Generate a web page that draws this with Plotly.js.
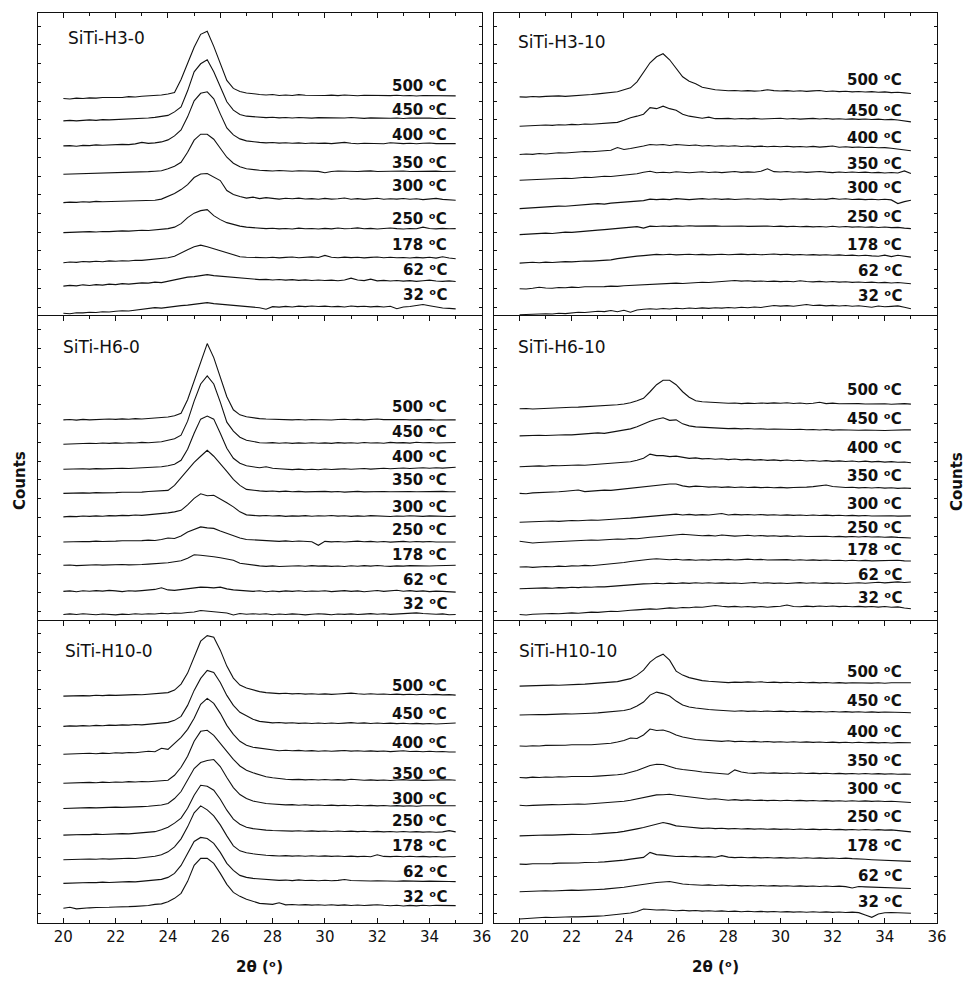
<!DOCTYPE html>
<html>
<head>
<meta charset="utf-8">
<script src="https://cdn.plot.ly/plotly-3.0.1.min.js"></script>
<style>
  html, body { margin: 0; padding: 0; background: #fff; }
  #chart { width: 970px; height: 981px; }
</style>
</head>
<body>
<div id="chart"></div>
<script>
// 2θ grid of the in-situ XRD scans (degrees)
const twoTheta = [20,20.25,20.5,20.75,21,21.25,21.5,21.75,22,22.25,22.5,22.75,23,23.25,23.5,23.75,24,24.25,24.5,24.75,25,25.25,25.5,25.75,26,26.25,26.5,26.75,27,27.25,27.5,27.75,28,28.25,28.5,28.75,29,29.25,29.5,29.75,30,30.25,30.5,30.75,31,31.25,31.5,31.75,32,32.25,32.5,32.75,33,33.25,33.5,33.75,34,34.25,34.5,34.75,35];

// measurement temperatures, top pattern first
const temperatures = ['500', '450', '400', '350', '300', '250', '178', '62', '32'];

const samples = ['SiTi-H3-0', 'SiTi-H3-10', 'SiTi-H6-0', 'SiTi-H6-10', 'SiTi-H10-0', 'SiTi-H10-10'];

// counts (arbitrary units, relative to the first point of each scan), one row per temperature
const countsH3_0 = [
  [0,-0.5,0.3,0,0.6,0.3,1,0.8,1.2,1,1.8,1.5, 2.2,2.5,3,3.5,4.5,6,19,35, 51,64,67,52,35,18,10,7, 5.5,4.5,4,3.5,4,3,3.5,3,3.8,3.2,3,3.5, 3,3.3,2.8,3.5,3,2.7,3.2,3,2.5,3,2.8,3.2, 2.7,3,2.5,3,2.8,2.5,3,2.7,2.6],
  [0,0.5,0,0.7,1,0.5,1.2,1,1.3,1.8,1.5,2.2, 2,2.8,3.5,4.3,5.5,9,14,30, 49,57,61,49,34,19,10.7,6.3, 4.7,4,3.5,3.2,3.6,3,3.3,2.8,3.4,3,2.7,3.2, 3,2.6,3.1,2.8,3.3,2.9,2.5,3,2.7,3.1,2.6,2.9, 2.4,2.8,3,2.5,2.7,2.3,2.8,2.5,2.3],
  [0,0.3,-0.3,0.5,0.3,1,0.7,1.2,1,1.5,1.3,2, 3.5,2.5,3,4,6,10,16,29, 45,52.5,54,47,32,18,11,7, 5,4,3.5,3,3.4,2.8,3.2,2.6,3,2.4,2.9,2.5, 2.8,2.3,2.9,3.5,2.6,2.2,2.7,2.4,2.8,2.2,3.2,2.5, 2.3,2.7,2.2,2.6,2.9,2.3,2.5,2.2,2.3],
  [0,0.2,0,0.6,0.3,1,0.8,1.2,1,1.6,1.4,2, 2.3,2.6,3,3.5,5.5,8,12,22, 34,40,40,35,26,17,11,7.5, 5.5,4.5,4,3.6,3.2,3.8,3.3,3,3.5,3.1,3.4,2.9, 1.5,2.8,3.3,2.9,3.2,2.7,3.1,3.4,2.8,3,3.3,2.9, 3.2,2.8,3,3.3,2.9,3.1,2.8,3.2,3],
  [0,0.5,0.2,0.8,0.5,1.2,0.8,1,1.5,1.2,1.8,1.5, 2,2.5,2.3,3.5,6,9,13,18, 25,28.5,29,25.5,22,12,8,6, 4.5,5.5,4,5,4.2,3.5,4.3,3.8,4.5,3.6,4,3.3, 4.2,3.5,3.9,4.6,3.4,4,3.2,3.8,4.4,3.3,3.9,3.5, 4.1,3.4,3.8,3,3.6,4.2,3.2,2.8,2.3],
  [0,0.3,0.8,0.5,1,0.6,1.2,1,1.5,1.8,1.5,2, 2.4,2.2,2.8,3.2,4,5.5,9,15, 19.5,22,23,17,13,10,8,6.5, 5.5,5,4.5,4,4.4,3.8,4.2,3.6,4.5,3.9,4.2,3.7, 4.3,3.8,4.6,3.9,4.2,4.8,3.9,4.3,3.7,4.1,4.6,4, 3.6,4.2,3.9,5.5,4.1,3.8,4.3,3.9,4],
  [0,0.7,0.3,1.2,0.8,1.5,1,1.8,1.4,2,1.7,2.5, 2.3,3,3.5,4.2,5,6.5,10,13, 16,17.5,16,14,12,9.5,7.5,6, 5.5,5.2,5.6,5,5.4,4.8,5.3,5.7,5,5.4,5.8,5.2, 7.3,5.5,5,5.6,5.1,5.5,4.8,5.3,5.7,5,5.4,4.9, 5.2,4.7,5.3,4.8,5.4,4.6,6,4.7,4],
  [0,0.8,0.3,1.3,0.6,1.5,1,2,1.5,2.5,2,2.8, 3.3,3,4,3.5,5,6.5,7.5,9, 9.5,10.5,11.5,10.5,10,9.5,9,8, 7.5,7,6.5,6.8,6.2,6.6,6,6.5,5.8,6.3,5.7,6.2, 5.6,6,5.4,6.1,8,6.2,5.5,7,5.3,5.8,5.1,5.6, 5,5.5,4.8,5.4,6,5.2,4.8,5.3,4.7],
  [0,-0.5,0.5,0.3,1,0.7,1.5,1.2,2,2.5,2.2,3, 3.5,4.5,5.5,5,6,6.5,7.5,8, 9,9.5,10.5,9.5,9,8.5,8,7.5, 7,6,5.5,4,6.5,6,6.8,6.2,7,6.5,7.2,6.6, 7,6.4,6.8,6.2,7.1,6.5,6.9,6.3,6.8,6.2,6.9,4.5, 6.2,6.6,7.5,8.7,7.5,6,5.2,4.8,4.3]
];

const countsH3_10 = [
  [0,-0.3,0.3,0,0.5,0.8,1,0.5,0.8,1.2,1.8,2.3, 3,3.5,4,5,7,9,15,25, 34,40,43,37,29,20,15.5,13, 9.5,8,7,6.5,6,6.3,5.8,6.2,5.7,6,7,6.2, 5.8,6.2,5.6,6,5.5,5.9,6.3,5.4,5.8,5.2,5.6,5, 5.4,4.8,5.2,4.6,5,4.2,4.6,4,3.3],
  [0,0.3,0.8,0.4,1.2,0.8,1.5,1.2,1.8,1.5,2.2,2, 2.5,3,3.2,3.8,6,8.5,10,12, 18.5,17.5,20,17.5,16,12,10,9, 8,9,7.5,7.5,7.8,7.2,7.7,7.3,7.8,7.1,7.6,7.4, 7.9,7.2,7.6,7,7.5,7.8,7.2,7.6,7,7.4,6.9,7.3, 6.8,7.2,6.6,7,6.4,6.8,6.2,5.5,4.3],
  [0,0.5,0.2,1,0.6,1.3,1.8,1.5,2.2,2.5,3,2.8, 3.5,4,4.3,7,5,6,7,8.5, 10,9.5,10,9,10,9.5,9,9.5, 8.5,9,8.3,8.8,8.2,8.7,8,8.5,7.9,8.4,7.8,8.2, 7.7,8.3,7.6,8,7.5,8.1,7.4,7.9,8.5,7.3,7.7,7.1, 7.5,7,7.3,6.7,6.9,6.2,5.5,4.5,3.7],
  [0,0.3,0.8,0.5,1.2,1,1.5,2,1.8,2.5,3,2.7, 3.5,4,3.8,4.5,5.5,6,6.5,8, 9,7.5,8,7.5,8.5,8,7.5,8, 8.5,7.8,8.3,7.6,8.2,8.8,7.9,8.4,8,9,11.5,8.6, 8.2,8.7,8,8.5,7.9,8.4,8.8,8.1,7.6,8.2,7.8,8.3, 7.7,8.1,7.5,7.9,7.3,7.8,7.2,9.3,6.7],
  [0,0.5,1,0.8,1.5,2,2.5,2.3,3,3.5,3.8,4.5, 5,4.5,5.5,6,6.5,7,7.5,8, 9.5,9,9.5,9,10,9.5,9,9.5, 10,9.3,9.8,9.2,9.7,9.1,9.6,9.9,9.3,9.8,9.2,9.6, 9,9.5,9.9,9.3,9.7,9.1,9.6,9.2,10.2,9.4,9.8,9.1, 9.5,9,9.4,8.8,9.3,8.7,5,7,8.3],
  [0,0.5,0.3,1,1.5,1.2,2,2.5,2.3,3,3.5,4, 4.5,5,5.5,6,7,7.5,8,6.5, 8.5,8.2,8.7,8.3,8.8,8.4,8.9,8.5, 8.7,8.3,8.8,8.4,8.6,8.2,8.7,8.3,8.5,8.1,8.6,8.2, 8.5,8,8.4,7.9,8.3,7.8,8.2,7.7,8.4,7.6,8.1,7.5, 7.9,7.4,7.8,7.2,7.6,7,7.3,6.5,6],
  [0,0.4,0.8,0.3,1,0.6,1.2,1.5,1.2,1.8,2.1,2, 2.4,2.7,3.2,4.5,5.5,6.7,7,7.5, 8,8.7,8.3,8.8,8.2,8.6,8.9,8.4, 8.7,8.2,8.6,8.9,8.3,8.7,9,8.5,8.8,8.3,8.7,9.1, 8.5,8.9,8.2,8.6,8.1,8.5,8,8.4,7.8,8.2,7.6,8, 7.4,7.8,7.2,6.8,8,6.5,7.8,6.6,6],
  [0,-0.3,0.5,1.5,0.8,0.5,1.2,1,1.6,1.3,2,1.8, 2.3,2.1,2.6,2.4,3,3.3,3.8,4.2, 4.5,5,4.7,5.3,5.6,5.2,5.8,6, 6.5,6.2,6.9,7.3,8,8.3,7.6,8,7.4,7.8,7.2,7.6, 7.1,7.5,7,8,7.3,6.9,7.4,6.8,7.2,6.6,7,6.4, 6.8,6.2,6.6,6,6.4,5.8,6.2,5.5,5],
  [0,0.3,0.7,0.4,1,0.8,1.5,1.2,2,2.5,2.3,3, 3.5,3.2,4.3,3,4.5,2.5,4.8,5.5, 6,5.5,6.3,5.8,6.5,6,6.8,6.3, 6.9,6.4,7,6.6,7.2,6.8,7.5,7,7.8,7.3,8,9.3, 8.6,9.1,8.5,9.5,10.3,9.2,9.6,8.9,9.4,8.8,9.2,8.5, 9,8.3,7.5,8.8,8,8.4,8.9,7.5,6]
];

const countsH6_0 = [
  [0,0.3,-0.3,0.5,0,0.5,0.3,0.8,0.5,1,0.6,1.2, 0.8,1.2,1.5,2.3,2.8,4,6.5,20, 39,58,76,62,42,23,10,5, 3,2,1.2,0.8,0.5,0.2,0.6,0,0.4,-0.2,0.3,0, 0.4,-0.1,0.3,0.6,0.1,0.5,0,0.4,0.8,0.2,0.5,0.1, 0.4,0,0.3,0.6,0.2,-0.1,0.3,0.1,0],
  [0,0.3,0.8,0.4,1,0.7,1.2,0.8,1.3,1,1.5,1.2, 1.8,1.5,2,2.5,4,5.5,9,23, 43,60,68,60,42,22,13,7, 4,2.5,1.5,1.2,1.6,1,1.4,0.8,1.3,0.9,1.5,1, 1.3,0.8,1.6,1.1,1.4,0.9,1.7,1.2,1.5,1,1.8,1.3, 1.6,1.1,1.9,1.4,1.7,1.2,1.5,2,1.7],
  [0,0.3,0,0.5,0.2,0.7,0.4,0.8,0.5,1,0.8,1.2, 1,1.5,2,2.5,3.5,5,9,20, 36,50,53,50,36,21,11,6, 3.5,2.5,1.5,2.5,1,0.5,0,-0.3,0.2,-0.5,0,-0.4, 0.3,-0.2,0.2,0.5,0,0.4,0.8,0.2,0.6,1,0.5,0.9, 1.3,0.8,1.2,1.6,1,1.5,1.2,1.8,2],
  [0,0.3,0,0.5,0.3,0.8,0.5,1,0.8,1.2,1,1.5, 1.3,1.8,2,2.5,3,8,16,24, 31,37,43,37,30,22,14,8, 4,3,2.5,2,2.3,1.8,2.2,1.6,2,1.5,1.9,1.7, 2,1.5,1.8,1.3,1.7,2,1.5,1.8,1.4,1.9,1.6,1.8, 1.5,1.9,1.6,1.8,1.4,1.7,2,1.6,1.7],
  [0,0.5,0.2,0.8,0.5,1,0.6,1.2,1,1.5,1.2,1.8, 1.5,2,2.5,3,4,5,6.5,12, 18.5,23,21,21.5,18,14,10,5, 2,1.5,1,1.3,0.8,1.2,0.5,1,0.7,1.2,0.6,1.1, 0.8,1.3,0.7,1.1,0.5,1,0.6,1.2,0.8,1.1,0.4,0.9, 0.6,1.1,0.7,0.5,1,0.6,0.9,0.4,0.7],
  [0,0.3,0,0.5,0.3,0.8,0.5,1,0.8,1.2,1,1.5, 1.3,1.8,1.5,2.5,4,3.5,6,10, 12.5,15,14,13.5,11,8.5,6,4, 2.5,2,1.5,1.2,1,0.6,1.1,0.5,0.9,0.3,0.2,-3.3, 0.6,0.1,0.5,0,0.4,0.8,0.2,0.6,0,0.4,-0.2,0.3, 0.6,0,0.5,0.1,0.4,-0.1,0.3,0,0],
  [0,0.3,-0.3,0.2,0,0.5,0.2,0.6,0.3,0.8,0.5,1, 0.8,1.2,1.5,2,2.5,3.5,4.5,7, 10.5,10,9.5,8.5,7.5,6.5,5,2, 1,0,-0.5,-1,-0.5,-1.2,-0.8,-1,-0.4,-0.9,-0.3,-0.8, -0.5,-1,-0.6,-1.1,-0.4,-0.9,-0.3,-0.8,-0.2,-0.7,-1,-0.5, -0.8,-0.3,-0.6,-0.2,-0.7,-0.4,-0.1,-0.5,0],
  [0,0.5,-0.3,0.6,0.2,0.8,0.3,1,0.5,-0.2,0.6,0.3, 0.8,1.2,2,3.7,1.5,1,1.8,2.5, 3,4.3,4,3.5,4.3,2.5,1.5,1, 0.5,0,0.6,-0.3,0.4,-0.2,0.5,0,0.7,-0.1,0.4,0.1, 0.6,-0.2,0.3,0.8,0,0.5,-0.3,0.4,0.9,0,0.6,1.2, 0.2,0.8,0,0.5,-0.2,0.3,0,-0.5,-0.7],
  [0,0.6,0,0.8,0.2,-0.3,0.5,0.3,-0.4,0.4,0,0.7, 0.3,0.8,0.5,1.2,0.8,1.5,1.3,2, 2.5,4,3.5,2.8,2.2,1.5,-0.5,1, 0.3,0.8,0.2,0.7,-0.3,0.5,0,0.6,0.2,-0.4,0.3,0.8, 0.4,-0.2,0.5,0.1,0.6,0,0.4,0.9,0.3,0.7,0.1,0.5, 0.9,1.3,1.6,1,0.5,0.2,0.6,-0.3,0]
];

const countsH6_10 = [
  [0,0.3,-0.2,0.2,0.5,0.7,0.8,1.3,1.6,1.7,2,2.3, 2.7,3,3.5,4,4.8,6,8,10.5, 17,24,28.5,28.5,24,17,11.5,8, 7,6.5,6,6,5.5,5.8,5.2,5.6,5.3,5.8,5.4,5.9, 5.5,6,5.3,5.7,5.1,5.5,6.5,5.2,5.6,5,5.3,4.9, 5.2,4.8,5.1,4.7,5,4.6,4.9,5.2,4.7],
  [0,0.3,0,0.6,0.4,0.9,0.7,1.2,1,1.5,1.3,1.8, 3,2.5,3.5,4.5,6,7,9,12, 14.5,16.5,18,15.5,16,12,10,9, 8.5,8,7.5,7.7,7.2,7.5,7,7.3,6.8,7.1,6.6,6.9, 6.5,6.8,6.3,6.6,6.1,6.4,5.9,6.3,5.8,6.1,5.7,6, 5.6,5.9,5.5,5.8,5.4,5.7,5.5,6,6],
  [0,0.4,0.2,0.8,0.5,1.1,0.9,1.4,1.2,1.7,1.5,2, 2.2,2.6,3,3.5,4,5,6.5,8.5, 12.5,11,11,10,10.5,9.5,8.3,8.8, 7.8,8.2,7.4,7.9,7.1,7.6,6.8,7.3,6.6,7,6.3,6.8, 6.1,6.6,5.9,6.4,5.7,6.2,5.5,6,5.3,5.8,5.2,5.6, 5,5.5,4.8,5.3,4.6,5,4.4,4.7,4],
  [0,-0.3,0.5,0.8,0.4,1.2,1.6,2.2,2.5,3.3,1.8,2.5, 2.8,3.2,3,3.7,4.5,5,6,6.8, 7.5,8,8.8,9.3,9.3,7.5,6.5,7.2, 6.8,6.2,6.6,6,6.5,5.9,6.3,5.8,6.2,5.7,6.1,5.6, 6,5.5,5.9,5.7,6.2,6.7,7.5,8.3,6.8,6.2,5.8,6.1, 5.5,5.9,5.4,5.8,5.2,5.6,5,5.4,5],
  [0,0.3,0.6,0.4,0.9,1.1,0.8,1.3,1.6,1.4,1.9,2.2, 2,2.6,3,3.3,3.7,4,4.5,5.5, 6,6.5,7,7.5,8,7.2,7.8,7, 7.5,7.2,7.8,8.7,7.2,7.8,7.3,7.7,7.1,7.6,7,7.4, 6.9,7.3,6.8,7.2,6.7,7.1,6.6,7,6.5,6.9,6.4,6.8, 6.3,6.7,6.2,6.5,6.1,6.4,6,6.3,6.3],
  [0,-0.5,-1.7,-1.3,-1,-0.6,-0.2,0.2,0.6,0.4,0.9,1.2, 1,1.5,1.8,2.2,2,2.7,2.5,3.5, 4,4.5,5,5.5,6,7,6.5,6, 5.5,5.8,5.3,6.2,5.6,5.1,5.5,5.9,5.3,5.7,5.1,5.5, 4.9,5.3,4.8,5.2,4.7,5,4.6,5,4.5,4.9,4.4,4.8, 4.3,4.7,4.2,4.5,4,4.4,3.9,3.6,3.3],
  [0,0.3,-0.3,0.2,0.6,0.3,0.9,0.5,1.2,1,1.6,1.3, 1.9,2.2,2.8,3.5,4.5,5.5,6.5,7.2, 7.8,8.3,7.6,7.2,7.7,7,7.4,6.8, 7.3,6.9,7.5,7.1,7.6,7,7.4,7.9,7.2,7.6,7,7.3, 6.9,7.4,6.8,7.2,6.7,7.1,6.6,7,6.5,6.8,6.3,6.7, 6.2,6.6,6.1,6.4,6,6.3,6.8,6.1,6],
  [0,0.3,0.6,0.2,0.8,0.5,1.1,0.8,1.4,1.1,1.7,1.4, 2,1.8,2.4,2.9,3.3,3.8,4.3,4.8, 5,5.4,4.9,5.6,5.2,5.8,5.3,5.9, 5.5,6,5.4,5.8,5.3,5.7,5.2,5.6,6.2,5.5,5.9,5.3, 5.7,5.2,5.6,6.1,5.5,5.9,5.4,5.8,5.3,5.7,5.2,5.6, 6,5.5,6,6.4,5.8,6.3,6.8,6.2,6.7],
  [0,-0.5,0.2,0.6,0.3,1,0.7,1.3,1.6,1.2,2,2.4, 2.1,2.8,3.3,3,3.8,4.2,4.6,5.2, 5.6,5.3,6,6.6,6.2,7,6.8,7.5, 7.2,8,9,8.2,7.6,8.1,7.5,8,7.4,7.9,7.3,7.8, 8.2,9.5,8,7.7,8.3,7.8,8.4,7.9,8.5,7.8,8.2,7.7, 8.1,7.6,8,7.4,7.9,7.2,7.6,6.5,5.7]
];

const countsH10_0 = [
  [0,0.3,0,0.5,0.2,0.8,0.5,1,0.7,1.2,1,1.5, 1.3,1.7,2,2.8,3.5,6,12,23, 40,55,60.5,59,46,30,18,11, 8,6,4.5,3.5,3,2.5,2.8,2.2,2.6,2,2.4,1.8, 2.2,1.7,2.1,2.5,3,2.3,1.9,2.4,1.8,2.1,1.6,2, 1.5,1.9,1.4,1.8,1.3,1.7,1.2,1.5,1],
  [0,0.5,0.2,0.7,0.4,1,0.6,1.2,1,1.5,1.2,1.8, 1.5,2,2.5,3.2,4,6,10,21, 36,48,56,54,44,31,21,14, 10.5,7,5,4,3.5,3.8,3.2,3.6,3,3.4,2.9,3.3, 2.9,3.3,2.8,3.2,3.7,3.1,3.5,2.9,3.3,2.8,3.2,2.7, 3.1,2.6,3,2.5,2.9,2.4,2.8,3.3,3.3],
  [0,0.3,0.7,0.3,1,0.6,1.2,0.8,1.5,1.2,1.8,1.5, 2,3,2.5,6,5,11,17,25, 36,50,56,51,41,29,20,13, 9,7,6,5,4,3.6,4,3.5,3.9,3.3,3.7,3.1, 3.5,3,3.4,3.8,3.2,3.6,3,3.4,2.9,3.3,2.7,3.2, 3.6,2.8,3.1,2.6,3,2.5,2.8,2.3,2.3],
  [0,0.3,0.6,0.3,0.9,0.5,1.1,0.8,1.3,1,1.6,1.3, 1.8,1.5,2,2.3,3,8,16,27, 42,52,53,48,40,31,24,17.3, 13,10.5,8.5,6.5,5.5,4.5,4,3.6,3.9,3.4,3.8,3.3, 3.7,3.2,3.6,3.1,4,3.5,3,3.4,2.9,3.3,2.8,3.2, 3.6,3,3.4,2.9,3.2,2.8,3.1,3.5,3],
  [0,0.3,0.6,0.4,0.9,0.6,1.1,0.9,1.4,1.1,1.6,1.4, 1.9,2.3,2.8,3.5,5,10,17,28, 40,46,48,49,42,31,21,14, 10,7.5,6,5,4.5,4,3.6,3.9,3.3,3.7,3.1,3.5, 3,3.4,2.9,3.3,2.8,3.2,2.7,3.1,2.6,3,2.5,2.9, 2.4,2.8,2.3,2.7,2.6,2.9,2.4,2.8,2.7],
  [0,0.4,0.2,0.7,0.5,1,0.7,1.2,1,1.5,1.3,1.8, 2.2,2.6,3.5,5.5,8,12,17,27, 40,50,49,45,36,25,16,11, 8,6.5,5.5,5,4.6,4.2,4.5,4,4.4,3.9,4.3,3.8, 4.2,3.7,4.1,3.6,4,3.5,3.9,3.4,3.8,3.3,3.7,3.2, 3.6,3.1,3.5,3,3.4,2.9,3.3,4.5,3.3],
  [0,0.3,0.6,0.3,0.8,0.5,1,0.7,1.2,1,1.5,1.3, 1.8,2.5,3.5,5,8,13,21,33, 47,54,50,44,35,24,14,9, 7,6,5,4.5,4.2,3.8,4.2,3.7,4.1,3.6,4,3.5, 3.9,3.4,3.8,3.3,3.7,3.2,3.6,3.1,5,3.4,3.2,3.6, 3.1,3.5,3,3.4,2.9,3.3,2.8,3.2,3.3],
  [0,0.3,0.6,0.4,0.9,0.7,1.2,0.9,1.4,1.2,1.7,1.5, 2,2.5,3,4,6,10,18,30, 42,46,45,40,31,20,13,8, 6,5,4.5,4,3.5,3,3.3,2.8,3.5,2.9,3.2,2.7, 3.1,2.6,3,3.8,2.9,2.5,2.8,2.4,2.7,2.3,2.6,2.2, 2.5,2.1,2.4,2,2.3,1.9,2.2,1.8,1.7],
  [0,1,-0.5,0.2,0.5,0.8,0.6,1.1,1.4,1.2,1.7,2, 2.2,2.8,4,4.5,6.5,10,15,27, 43,50,50,45,35,24,16,12, 9,7,5,4.5,4,5.5,3.5,3.9,3.3,3.7,3.2,3.6, 3.1,3.5,3,3.4,2.9,3.3,2.8,3.2,3.6,3,2.6,3.1, 2.4,2.9,2.5,3,2.6,3,2.8,2.4,2.7]
];

const countsH10_10 = [
  [0,0.3,0.5,0.2,0.8,1,0.8,1.3,1.5,1.7,2,2.5, 2.8,3.3,3.5,4.5,6,7.5,11,16, 24,29,32,26,15,11,8.5,7, 5.5,4.8,4.5,4.2,3.5,4,3.7,4.2,3.8,4.3,3.6,4, 3.5,3.9,3.4,3.8,3.3,3.7,3.2,3.6,3.1,3.5,3,3.4, 3.2,3.6,3,3.4,2.9,3.3,3.1,3.4,3.3],
  [0,0.3,0,0.6,0.4,0.9,0.7,1.2,1,1.5,1.3,1.8, 2.2,2.6,3,3.4,4.5,6,9,13, 20,23,21.5,19,14,10,8,7, 6,5.5,5,4.6,4.2,3.8,4.3,3.7,4.1,3.6,4,3.5, 3.9,3.4,3.8,3.3,3.7,3.2,3.6,3.1,3.5,3,3.4,2.9, 3.3,2.8,3.2,2.7,3,2.6,2.9,2.5,2.3],
  [0,-0.3,0.3,0,0.6,0.4,0.9,0.7,1.2,1,1.5,1.3, 1.8,2.2,2.8,4,5.5,8,7.5,11, 17,15.5,16,14,11,9,7.5,6.5, 6,5.5,5,4.6,5.2,4.4,4.8,4.2,4.6,4,4.5,3.9, 4.3,3.8,4.2,3.7,4.1,3.6,4,3.5,3.9,3.4,3.8,3.3, 3.7,3.2,3.6,3.1,3.5,3,3.4,3.2,3.3],
  [0,-0.3,0.4,0.1,0.6,0.3,0.8,0.5,1,0.8,1.2,1, 1.4,1.7,2.2,2.8,3.6,5,7,9.5, 12,13.3,13,11,9,8,7.5,6.5, 5.5,5,4.6,4.5,3.3,7.7,5.5,4.6,4.2,4.8,4.3,4.7, 4.2,4.6,4.1,4.5,4,4.4,3.9,4.3,3.8,4.2,3.7,4.1, 3.6,4,3.5,3.9,3.4,3.8,3.3,3.6,3.3],
  [0,-0.5,-0.2,0.3,0.1,0.6,0.4,0.9,0.7,1.2,1,1.5, 1.8,2.2,2.7,3.2,4,5,6.5,7.7, 9,10.3,10.5,11,10,9.3,8,8, 7,6,6.5,5.5,5,5.6,4.8,5.3,4.7,5.1,4.6,5, 4.5,4.9,4.4,4.8,4.3,4.7,4.2,4.6,4.1,4.5,4,4.4, 3.9,4.3,3.8,4.2,3.7,4,3.5,3.1,2.7],
  [0,0.3,0.6,0.4,0.9,0.7,1.2,1,1.5,1.3,1.8,1.6, 2,2.4,2.8,3.5,4.5,5.5,7,8.3, 10,11.7,13.3,12,10,9.3,8.5,8, 7.5,7.8,7.2,7.6,7,7.4,6.8,7.2,6.7,7.1,6.6,7, 6.5,6.9,6.4,6.8,6.3,6.7,6.2,6.6,6.1,6.5,6,6.4, 5.9,6.3,5.8,6.2,5.7,6,5.4,4.8,4],
  [0,-0.3,0.4,0.2,0.7,0.5,1,0.8,1.3,1.1,1.6,1.4, 1.9,2.2,2.7,3.3,4,5,6,6.7, 11.7,9.5,9,8.2,7.6,7.9,7.3,7.7, 7.1,7.5,6.9,8.5,7,6.5,6.8,6.3,6.7,6.2,6.6,6.1, 6.5,6,6.4,5.9,6.3,5.8,6.2,5.7,6.1,5.6,6,5.5, 5.4,4.8,4.4,4,3.6,3.2,3,2.9,2.7],
  [0,0.3,0.7,0.4,1,0.8,1.3,1.1,1.6,1.4,1.9,1.7, 2.2,2.6,3.1,3.5,4.5,5.5,6.5,7.7, 8.5,9.3,9.8,10.3,9,7.7,7.2,6.8, 6.5,6.9,6.3,6.7,6.1,6.5,5.9,6.3,5.8,6.2,5.7,6.1, 5.6,6,5.5,5.9,5.4,5.8,5.3,5.7,5.2,5.6,5.1,3.8, 5.2,4.9,4.6,5,4.5,4.2,4,3.7,3.3],
  [0,0.5,1,1.3,1.7,1.5,2,1.8,2.3,2.1,2.6,2.4, 2.9,3.3,3.8,4.3,5,6,7.5,10, 9.5,9,9.3,8.8,8.3,8.7,8.1,8.5, 7.9,8.3,7.7,8.1,7.5,7.9,7.3,7.7,7.2,7.6,7.1,7.5, 7,7.4,6.9,7.3,6.8,7.2,6.7,7.1,6.6,7,6.5,6.9, 6.4,4,1.7,5,6.3,6.5,6.2,5.5,5.7]
];

const panelCounts = [countsH3_0, countsH3_10, countsH6_0, countsH6_10, countsH10_0, countsH10_10];

// ---- drawing setup ----
const FONT = 'DejaVu Sans';
const INK = '#111';

// vertical stacking of the patterns inside each panel (axis units, panel height = 303)
const stackBase = [
  [217.7, 195.3, 170.3, 142, 113.7, 83.7, 53.7, 30.3, 3.3],
  [219.3, 190, 161.7, 136, 107.7, 81.7, 53.3, 27.7, 1.7],
  [200, 175.7, 150.7, 126.7, 103.3, 78.3, 55, 29, 6],
  [211, 184, 153.3, 126.7, 98, 79, 53.3, 31.7, 6],
  [227.3, 197, 169, 140, 114.7, 88, 63.3, 39.7, 14.7],
  [237.3, 208.3, 177.3, 145.7, 118, 87.3, 59, 31.3, 4]
];
// heights of the temperature tags
const tagY = [
  [230, 206, 181, 153.7, 130.3, 97.7, 71, 46, 21],
  [236, 205, 178.3, 152.7, 128.3, 99.3, 71, 45.3, 20],
  [212.3, 187.7, 163.3, 140, 112.7, 90, 65, 40, 16.7],
  [230, 201, 172.3, 144.3, 116, 92.7, 70, 45, 22.7],
  [237.3, 209, 180.7, 149.7, 124.7, 102.3, 76.7, 50.7, 25.7],
  [251.3, 222.3, 191.3, 162.3, 134, 105.7, 77.3, 47.3, 20.7]
];
// sample name placement (x in degrees, y in axis units)
const namePos = [[20.1, 278], [19.85, 274], [19.9, 272.7], [19.85, 272.7], [20.0, 272.3], [19.9, 272.3]];

const colDomains = [[0, 0.4937], [0.5067, 1]];
const rowDomains = [[0.6665, 1], [0.3324, 0.6665], [0, 0.3324]];
const xRanges = [[19.03, 36], [19, 36]];

const traces = [];
const annotations = [];
const layout = {
  width: 970, height: 981,
  margin: {l: 38, r: 33, t: 13, b: 58},
  paper_bgcolor: '#fff', plot_bgcolor: '#fff',
  showlegend: false,
  font: {family: FONT, size: 15, color: INK},
  annotations: annotations
};

panelCounts.forEach((curves, p) => {
  const n = p === 0 ? '' : String(p + 1);
  const row = Math.floor(p / 2), col = p % 2;
  const bottomRow = row === 2;

  curves.forEach((vals, k) => {
    traces.push({
      type: 'scatter', mode: 'lines',
      x: twoTheta,
      y: vals.map(v => v + stackBase[p][k]),
      xaxis: 'x' + n, yaxis: 'y' + n,
      line: {color: INK, width: 1.1},
      hoverinfo: 'skip'
    });
    annotations.push({
      xref: 'x' + n, yref: 'y' + n,
      x: 34.75, y: tagY[p][k],
      xanchor: 'right', yanchor: 'middle',
      text: '<b>' + temperatures[k] + ' ᵒC</b>',
      showarrow: false,
      font: {family: FONT, size: 15, color: INK}
    });
  });

  annotations.push({
    xref: 'x' + n, yref: 'y' + n,
    x: namePos[p][0], y: namePos[p][1],
    xanchor: 'left', yanchor: 'middle',
    text: samples[p], showarrow: false,
    font: {family: FONT, size: 17, color: INK}
  });

  // upper rows: ticks along the top edge only; the lower edge is drawn by the row below
  layout['xaxis' + n] = {
    domain: colDomains[col], range: xRanges[col], anchor: 'y' + n,
    side: bottomRow ? 'bottom' : 'top',
    showline: true, linecolor: INK, linewidth: 1,
    mirror: bottomRow ? 'ticks' : false,
    ticks: 'inside', ticklen: 5, tickwidth: 1, tickcolor: INK,
    tickmode: 'linear', tick0: 20, dtick: 2,
    minor: {dtick: 1, ticks: 'inside', ticklen: 3, tickwidth: 1, tickcolor: INK},
    showticklabels: bottomRow,
    tickfont: {family: FONT, size: 15, color: INK},
    showgrid: false, zeroline: false
  };
  layout['yaxis' + n] = {
    domain: rowDomains[row], range: [0, 303], anchor: 'x' + n,
    showline: true, linecolor: INK, linewidth: 1, mirror: 'ticks',
    ticks: 'inside', ticklen: 3, tickwidth: 1, tickcolor: INK,
    tickmode: 'linear', tick0: 9.35, dtick: 18.7,
    showticklabels: false, showgrid: false, zeroline: false
  };
});

// axis titles
['x5', 'x6'].forEach(ax => {
  annotations.push({
    xref: ax + ' domain', yref: 'paper', x: 0.5, y: -0.0484,
    xanchor: 'center', yanchor: 'middle',
    text: '<b>2θ (ᵒ)</b>', showarrow: false,
    font: {family: FONT, size: 15, color: INK}
  });
});
[-0.02, 1.0222].forEach(xp => {
  annotations.push({
    xref: 'paper', yref: 'paper', x: xp, y: 0.4857,
    xanchor: 'center', yanchor: 'middle', textangle: -90,
    text: '<b>Counts</b>', showarrow: false,
    font: {family: FONT, size: 15, color: INK}
  });
});

Plotly.newPlot('chart', traces, layout, {displayModeBar: false, staticPlot: true});
</script>
</body>
</html>
